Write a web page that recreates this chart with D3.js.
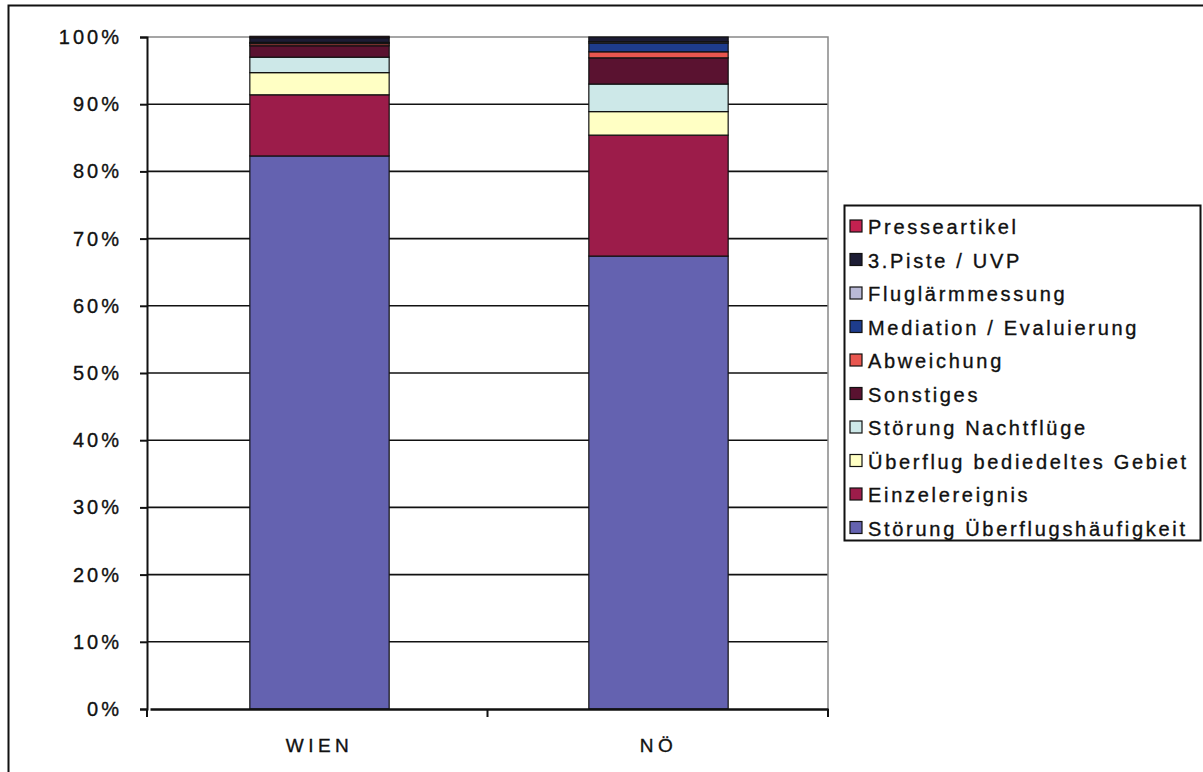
<!DOCTYPE html>
<html>
<head>
<meta charset="utf-8">
<script src="https://cdn.jsdelivr.net/npm/d3@7"></script>
<style>
  html, body { margin: 0; padding: 0; background: #fff; }
  svg { display: block; }
  text { font-family: "Liberation Sans", Arial, sans-serif; fill: #111; stroke: #111; stroke-width: 0.35px; }
</style>
</head>
<body>
<svg id="chart" width="1203" height="772"></svg>
<script>
// Regions (x categories)
const categories = ["WIEN", "NÖ"];

// Complaint categories, bottom of stack first
const seriesNames = [
  "Störung Überflugshäufigkeit",
  "Einzelereignis",
  "Überflug bediedeltes Gebiet",
  "Störung Nachtflüge",
  "Sonstiges",
  "Abweichung",
  "Mediation / Evaluierung",
  "Fluglärmmessung",
  "3.Piste / UVP",
  "Presseartikel"
];

// Share in percent per region, same order as seriesNames
const wienValues = [82.3, 9.1, 3.3, 2.3, 1.7, 0.3, 0.1, 0.1, 0.7, 0.2];
const noeValues  = [67.4, 18.0, 3.5, 4.1, 3.9, 0.9, 1.3, 0.2, 0.7, 0.0];

const seriesColors = [
  "#6462b0", "#9c1c4a", "#ffffc4", "#cde8e8", "#5a1230",
  "#e8564f", "#1e3c8c", "#b9b9d6", "#1c1c34", "#c42150"
];

const yTicks = [0, 10, 20, 30, 40, 50, 60, 70, 80, 90, 100];
const yTickLabels = ["0%", "10%", "20%", "30%", "40%", "50%", "60%", "70%", "80%", "90%", "100%"];

const svg = d3.select("#chart");

// Outer chart frame
svg.append("rect")
  .attr("x", 8.5).attr("y", 5.5)
  .attr("width", 1220).attr("height", 800)
  .attr("fill", "#fff").attr("stroke", "#111").attr("stroke-width", 2);

const plot = { left: 147, right: 828, top: 37, bottom: 709 };

const x = d3.scaleBand()
  .domain(categories)
  .range([plot.left + 3, plot.right])
  .paddingInner(0.589)
  .paddingOuter(0.2945);

const y = d3.scaleLinear().domain([0, 100]).range([plot.bottom, plot.top]);

// Gridlines
svg.append("g")
  .selectAll("line")
  .data(yTicks.filter(t => t > 0 && t < 100))
  .join("line")
  .attr("x1", plot.left).attr("x2", plot.right)
  .attr("y1", d => y(d)).attr("y2", d => y(d))
  .attr("stroke", "#111").attr("stroke-width", 1.6);

// Plot area border (top & right)
svg.append("path")
  .attr("d", `M${plot.left},${plot.top}H${plot.right}V${plot.bottom}`)
  .attr("fill", "none").attr("stroke", "#888").attr("stroke-width", 1.5);

// Stacked data
const rows = categories.map((c, i) => {
  const vals = i === 0 ? wienValues : noeValues;
  const r = { category: c };
  seriesNames.forEach((s, j) => { r[s] = vals[j]; });
  return r;
});
const stacked = d3.stack().keys(seriesNames)(rows);

svg.append("g")
  .selectAll("g")
  .data(stacked)
  .join("g")
  .attr("fill", (d, i) => seriesColors[i])
  .selectAll("rect")
  .data(d => d.filter(p => p[1] - p[0] > 0))
  .join("rect")
  .attr("x", d => x(d.data.category))
  .attr("width", x.bandwidth())
  .attr("y", d => y(d[1]))
  .attr("height", d => y(d[0]) - y(d[1]))
  .attr("stroke", "#111")
  .attr("stroke-width", 1.2);

// Y axis
const yAxis = d3.axisLeft(y)
  .tickValues(yTicks)
  .tickFormat((d, i) => yTickLabels[i])
  .tickSize(7)
  .tickPadding(18);
const gy = svg.append("g").attr("transform", `translate(${plot.left},0)`).call(yAxis);
gy.select(".domain").attr("stroke", "#111").attr("stroke-width", 2);
gy.selectAll(".tick line").attr("stroke", "#111").attr("stroke-width", 2);
gy.selectAll(".tick text")
  .style("font-size", "20px")
  .style("letter-spacing", "3px")
  .attr("fill", "#111");

// X axis
const xAxis = d3.axisBottom(x).tickSize(0).tickPadding(30);
const gx = svg.append("g").attr("transform", `translate(0,${plot.bottom})`).call(xAxis);
gx.select(".domain").attr("stroke", "#111").attr("stroke-width", 2.5);
gx.selectAll(".tick text")
  .style("font-size", "19px")
  .style("letter-spacing", "4.5px")
  .attr("fill", "#111");
// Category separator ticks
const sepTicks = [plot.left, (plot.left + plot.right) / 2, plot.right];
svg.append("g").selectAll("line").data(sepTicks).join("line")
  .attr("x1", d => d).attr("x2", d => d)
  .attr("y1", plot.bottom).attr("y2", plot.bottom + 8)
  .attr("stroke", "#111").attr("stroke-width", 2);

// Legend (top entry = last series)
const legend = svg.append("g");
legend.append("rect")
  .attr("x", 844.5).attr("y", 205.5)
  .attr("width", 356).attr("height", 335)
  .attr("fill", "#fff").attr("stroke", "#111").attr("stroke-width", 2);

const legendItems = seriesNames.map((s, i) => ({ name: s, color: seriesColors[i] })).reverse();
const li = legend.selectAll("g.item")
  .data(legendItems)
  .join("g")
  .attr("class", "item")
  .attr("transform", (d, i) => `translate(850,${227 + i * 33.5})`);
li.append("rect")
  .attr("x", 0).attr("y", -7)
  .attr("width", 12).attr("height", 12)
  .attr("fill", d => d.color)
  .attr("stroke", "#111").attr("stroke-width", 1.2);
li.append("text")
  .attr("x", 18).attr("y", 7)
  .style("font-size", "20px")
  .style("letter-spacing", "2.7px")
  .text(d => d.name);
</script>
</body>
</html>
